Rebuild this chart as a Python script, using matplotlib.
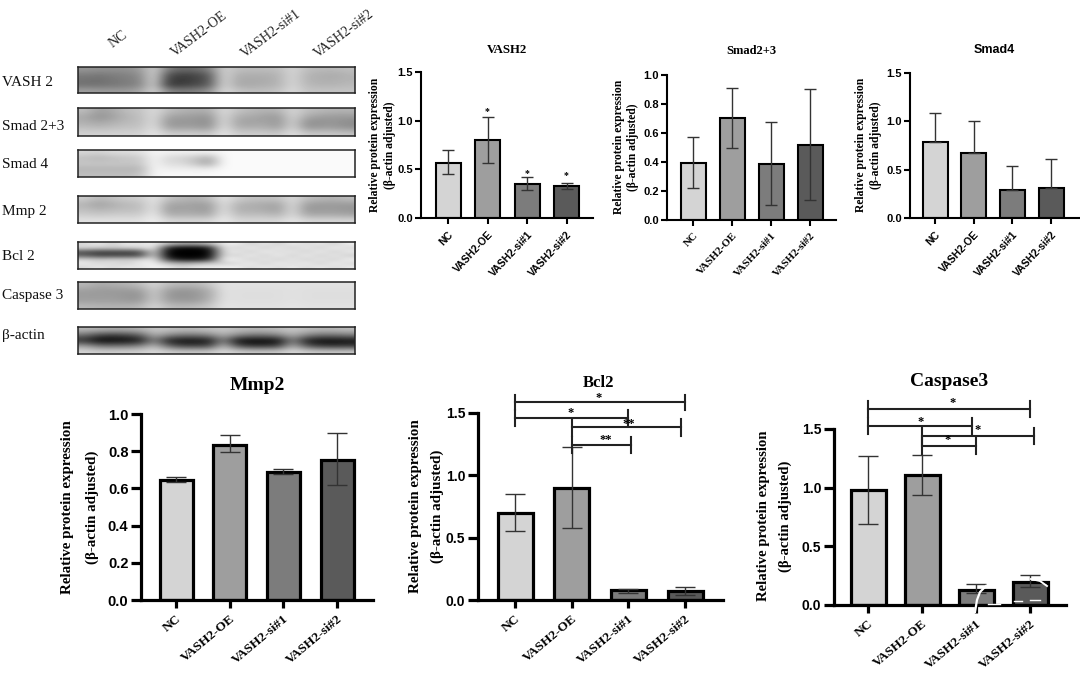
import numpy as np
import matplotlib
matplotlib.use('Agg')
import matplotlib.pyplot as plt
from matplotlib.lines import Line2D

SERIF = ['Liberation Serif', 'DejaVu Serif']
SANS = ['Liberation Sans', 'DejaVu Sans']

groups = ['NC', 'VASH2-OE', 'VASH2-si#1', 'VASH2-si#2']
bar_colors = ['#d4d4d4', '#9e9e9e', '#7c7c7c', '#5a5a5a']

vash2_mean = [0.57, 0.80, 0.35, 0.33]
vash2_low = [0.45, 0.56, 0.29, 0.30]
vash2_high = [0.70, 1.04, 0.42, 0.36]

smad23_mean = [0.39, 0.70, 0.385, 0.52]
smad23_low = [0.22, 0.495, 0.10, 0.14]
smad23_high = [0.575, 0.91, 0.675, 0.905]

smad4_mean = [0.785, 0.67, 0.285, 0.315]
smad4_low = [0.785, 0.67, 0.285, 0.315]
smad4_high = [1.09, 1.00, 0.535, 0.61]

mmp2_mean = [0.645, 0.835, 0.69, 0.755]
mmp2_low = [0.635, 0.795, 0.675, 0.62]
mmp2_high = [0.66, 0.885, 0.705, 0.90]

bcl2_mean = [0.70, 0.90, 0.08, 0.07]
bcl2_low = [0.555, 0.58, 0.06, 0.04]
bcl2_high = [0.85, 1.23, 0.09, 0.105]

casp3_mean = [0.98, 1.105, 0.13, 0.195]
casp3_low = [0.69, 0.94, 0.10, 0.15]
casp3_high = [1.27, 1.275, 0.175, 0.255]

# blot grey levels, one list per row of the membrane
blot_vash2 = [
    [150, 145, 145, 145, 155, 210, 125, 105, 110, 130, 210, 190, 188, 188, 190, 215, 190, 185, 185, 190],
    [125, 120, 125, 130, 140, 215, 80, 65, 70, 95, 215, 175, 175, 175, 180, 215, 180, 175, 170, 180],
    [115, 110, 120, 125, 135, 215, 65, 55, 65, 90, 215, 170, 170, 170, 180, 215, 180, 175, 175, 180],
    [115, 115, 120, 125, 135, 210, 60, 65, 75, 95, 215, 170, 170, 175, 180, 215, 185, 180, 180, 185],
    [160, 155, 155, 155, 165, 215, 135, 125, 130, 145, 220, 195, 190, 190, 195, 220, 195, 195, 195, 195],
]
blot_smad23 = [
    [190, 160, 170, 190, 195, 220, 190, 180, 175, 175, 220, 195, 185, 180, 180, 215, 190, 185, 180, 180],
    [170, 145, 160, 180, 190, 220, 165, 160, 155, 150, 220, 175, 170, 160, 155, 215, 170, 160, 155, 155],
    [175, 165, 175, 185, 190, 220, 150, 150, 150, 140, 220, 165, 160, 165, 150, 210, 145, 145, 150, 140],
    [190, 185, 190, 195, 195, 225, 160, 160, 160, 150, 225, 175, 175, 175, 160, 215, 150, 155, 155, 145],
    [210, 210, 210, 210, 210, 230, 205, 205, 205, 200, 230, 205, 205, 205, 200, 225, 200, 200, 200, 195],
]
blot_smad4 = [
    [215, 210, 220, 220, 225, 245, 240, 240, 240, 240, 248, 250, 250, 250, 250, 250, 250, 250, 250, 250],
    [190, 180, 190, 195, 200, 245, 215, 210, 195, 170, 248, 250, 250, 250, 250, 250, 250, 250, 250, 250],
    [200, 200, 200, 200, 200, 245, 220, 220, 195, 165, 248, 250, 250, 250, 250, 250, 250, 250, 250, 250],
    [180, 180, 180, 180, 180, 245, 238, 238, 238, 238, 248, 250, 250, 250, 250, 250, 250, 250, 250, 250],
    [190, 190, 190, 190, 195, 245, 248, 248, 248, 248, 250, 250, 250, 250, 250, 250, 250, 250, 250, 250],
]
blot_mmp2 = [
    [205, 185, 195, 205, 205, 230, 195, 185, 180, 190, 230, 205, 195, 195, 195, 220, 190, 185, 180, 190],
    [180, 160, 175, 185, 190, 230, 165, 165, 160, 160, 225, 180, 175, 170, 165, 220, 160, 155, 155, 155],
    [190, 180, 185, 190, 190, 230, 155, 165, 160, 155, 225, 175, 175, 170, 160, 220, 150, 155, 155, 150],
    [205, 200, 205, 205, 205, 235, 175, 175, 175, 170, 230, 190, 190, 190, 180, 220, 170, 170, 170, 165],
    [225, 225, 225, 225, 225, 240, 215, 215, 215, 215, 235, 215, 215, 215, 215, 230, 215, 215, 215, 215],
]
blot_bcl2 = [
    [215, 235, 205, 235, 225, 240, 190, 170, 170, 190, 235, 240, 205, 235, 205, 240, 215, 235, 205, 240],
    [215, 205, 205, 210, 215, 235, 40, 10, 10, 30, 235, 205, 240, 205, 235, 205, 235, 205, 240, 215],
    [85, 70, 70, 70, 80, 220, 5, 0, 0, 5, 220, 235, 205, 240, 215, 235, 205, 240, 205, 235],
    [95, 65, 70, 70, 75, 215, 5, 0, 0, 5, 225, 205, 240, 205, 240, 205, 240, 205, 235, 205],
    [210, 200, 205, 205, 210, 235, 60, 20, 20, 50, 240, 240, 205, 235, 205, 235, 205, 235, 205, 240],
    [235, 215, 225, 205, 235, 240, 190, 170, 180, 200, 205, 215, 240, 205, 240, 215, 240, 205, 240, 215],
    [215, 235, 215, 235, 225, 245, 235, 215, 235, 235, 240, 240, 215, 240, 215, 240, 215, 240, 215, 235],
]
blot_casp3 = [
    [185, 170, 175, 180, 190, 215, 190, 185, 185, 200, 225, 225, 225, 225, 225, 225, 225, 225, 225, 225],
    [160, 155, 155, 155, 160, 205, 160, 150, 155, 175, 225, 222, 222, 222, 222, 225, 222, 222, 222, 222],
    [155, 155, 155, 150, 145, 205, 150, 145, 150, 170, 225, 222, 222, 222, 222, 225, 222, 222, 222, 222],
    [160, 160, 160, 155, 155, 205, 160, 155, 155, 180, 225, 222, 222, 222, 222, 225, 222, 222, 222, 222],
    [185, 180, 180, 180, 185, 215, 190, 185, 190, 200, 228, 225, 225, 225, 225, 228, 225, 225, 225, 225],
]
blot_actin = [
    [185, 180, 175, 175, 180, 200, 195, 190, 190, 195, 200, 190, 185, 185, 190, 200, 190, 185, 185, 190],
    [110, 70, 60, 70, 95, 175, 140, 120, 120, 135, 175, 140, 120, 120, 135, 175, 135, 115, 115, 125],
    [45, 5, 5, 10, 25, 130, 30, 15, 15, 25, 130, 15, 5, 5, 15, 130, 30, 10, 10, 15],
    [160, 120, 115, 120, 135, 185, 105, 65, 65, 70, 185, 80, 50, 50, 65, 175, 85, 55, 50, 55],
    [215, 210, 210, 210, 210, 220, 210, 205, 205, 205, 220, 210, 205, 205, 205, 220, 210, 205, 205, 205],
]
blot_names = ['VASH 2', 'Smad 2+3', 'Smad 4', 'Mmp 2', 'Bcl 2', 'Caspase 3', 'β-actin']

W, H = 1080, 673
fig = plt.figure(figsize=(W / 100, H / 100), dpi=100)


def fx(x):
    return x / W


def fy(y):
    return 1 - y / H


def ftext(x, y, s, **kw):
    kw.setdefault('ha', 'center')
    kw.setdefault('va', 'center')
    fig.text(fx(x), fy(y), s, **kw)


# western blot strips
blots = [
    (blot_vash2, 67, 93, 82), (blot_smad23, 108, 136, 126), (blot_smad4, 150, 177, 165),
    (blot_mmp2, 196, 223, 211), (blot_bcl2, 242, 269, 256), (blot_casp3, 282, 309, 296),
    (blot_actin, 327, 354, 336),
]
for (grid, top, bottom, label_y), name in zip(blots, blot_names):
    ax = fig.add_axes([fx(78), fy(bottom), fx(355 - 78), (bottom - top) / H])
    ax.imshow(np.array(grid), cmap='gray', vmin=0, vmax=255, aspect='auto', interpolation='bicubic')
    ax.set_xticks([])
    ax.set_yticks([])
    for sp in ax.spines.values():
        sp.set_linewidth(1.1)
        sp.set_color('#222222')
    ftext(2, label_y, name, ha='left', family=SERIF, fontsize=11, color='#111111')

for x, y, s in [(118, 39, groups[0]), (199, 34, groups[1]), (271, 34, groups[2]), (344, 34, groups[3])]:
    ftext(x, y, s, rotation=37, family=SERIF, fontsize=10, color='#222222')


def bar_panel(mean, low, high, left, right, bottom, top, ymax, yticks, c0, step, width,
              big=False, tick_family=SANS, ytick_family=SANS, tick_size=7.5, ytick_size=8):
    ax = fig.add_axes([fx(left), fy(bottom), fx(right - left), (bottom - top) / H])
    xs = np.arange(4)
    lw = 2.3 if big else 1.5
    ax.bar(xs, mean, width=width / step, color=bar_colors, edgecolor='black', linewidth=lw, zorder=2)
    yerr = [np.array(mean) - np.array(low), np.array(high) - np.array(mean)]
    ax.errorbar(xs, mean, yerr=yerr, fmt='none', ecolor='#333333', elinewidth=1.0,
                capsize=7.5 if big else 4.2, capthick=1.0, zorder=3)
    ax.set_xlim((left - c0) / step, (right - c0) / step)
    ax.set_ylim(0, ymax)
    ax.set_xticks(xs)
    ax.set_yticks(yticks)
    ax.set_yticklabels(['%.1f' % t for t in yticks], family=ytick_family, fontsize=ytick_size, fontweight='bold')
    ax.set_xticklabels(groups, rotation=40 if big else 47, ha='right', rotation_mode='anchor',
                       family=tick_family, fontsize=tick_size, fontweight='bold')
    ax.spines['top'].set_visible(False)
    ax.spines['right'].set_visible(False)
    ax.spines['left'].set_linewidth(lw)
    ax.spines['bottom'].set_linewidth(lw)
    ax.tick_params(axis='y', width=lw, length=7 if big else 4, pad=2)
    ax.tick_params(axis='x', width=lw, length=6 if big else 4, pad=3 if big else 4)
    return ax


def ylabel2(x1, x2, y, size):
    ftext(x1, y, 'Relative protein expression', rotation=90, family=SERIF, fontsize=size, fontweight='bold')
    ftext(x2, y, '(β-actin adjusted)', rotation=90, family=SERIF, fontsize=size, fontweight='bold')


def bracket(ax, x0, x1, y, dy, lw=1.5):
    ax.plot([x0, x1], [y, y], color='#222222', lw=lw, clip_on=False, zorder=4)
    ax.plot([x0, x0], [y - dy, y + dy], color='#222222', lw=lw, clip_on=False, zorder=4)
    ax.plot([x1, x1], [y - dy, y + dy], color='#222222', lw=lw, clip_on=False, zorder=4)


def star(ax, x, y, s, size=9):
    ax.text(x, y, s, ha='center', va='center', family=SERIF, fontsize=size, fontweight='bold',
            clip_on=False, zorder=5)


# top row
ax = bar_panel(vash2_mean, vash2_low, vash2_high, 421, 593, 218, 72, 1.5, [0, 0.5, 1.0, 1.5], 448, 39.5, 25)
star(ax, 1, 1.09, '*', 7)
star(ax, 2, 0.46, '*', 7)
star(ax, 3, 0.44, '*', 7)
ftext(507, 50, 'VASH2', family=SERIF, fontsize=9.3, fontweight='bold')
ylabel2(375, 390, 145, 8.4)

bar_panel(smad23_mean, smad23_low, smad23_high, 667, 836, 220, 75, 1.0, [0, 0.2, 0.4, 0.6, 0.8, 1.0],
          693, 39, 25, tick_family=SERIF, tick_size=7.8)
ftext(751, 51, 'Smad2+3', family=SERIF, fontsize=9, fontweight='bold')
ylabel2(619, 633, 147, 8.4)

bar_panel(smad4_mean, smad4_low, smad4_high, 910, 1080, 218, 73, 1.5, [0, 0.5, 1.0, 1.5], 935, 38.7, 25)
ftext(994, 50, 'Smad4', family=SANS, fontsize=9, fontweight='bold')
ylabel2(861, 876, 145, 8.4)

# bottom row
bar_panel(mmp2_mean, mmp2_low, mmp2_high, 141, 373, 600, 414, 1.0, [0, 0.2, 0.4, 0.6, 0.8, 1.0],
          176, 53.7, 33, big=True, tick_family=SERIF, tick_size=9.6, ytick_size=10.5)
ftext(257, 385, 'Mmp2', family=SERIF, fontsize=14, fontweight='bold')
ylabel2(68, 92, 507, 10.8)

ax = bar_panel(bcl2_mean, bcl2_low, bcl2_high, 478, 723, 600, 413, 1.5, [0, 0.5, 1.0, 1.5],
               515, 56.7, 35, big=True, tick_family=SERIF, tick_size=9.6, ytick_size=10)
bracket(ax, 0, 3, 1.586, 0.062)
bracket(ax, 0, 2, 1.46, 0.062)
bracket(ax, 1, 2.92, 1.385, 0.07)
bracket(ax, 1, 2.04, 1.243, 0.062)
star(ax, 1.47, 1.62, '*')
star(ax, 0.98, 1.50, '*')
star(ax, 2.0, 1.41, '**')
star(ax, 1.6, 1.28, '**')
ftext(599, 383, 'Bcl2', family=SERIF, fontsize=12, fontweight='bold')
ylabel2(416, 437, 506, 10.8)

ax = bar_panel(casp3_mean, casp3_low, casp3_high, 834, 1066, 605, 429, 1.5, [0, 0.5, 1.0, 1.5],
               868, 54, 35, big=True, tick_family=SERIF, tick_size=9.6, ytick_size=10)
bracket(ax, 0, 3, 1.67, 0.067)
bracket(ax, 0, 1.92, 1.528, 0.067)
bracket(ax, 1, 3.07, 1.443, 0.067)
bracket(ax, 1, 2.0, 1.355, 0.067)
star(ax, 1.57, 1.72, '*')
star(ax, 0.97, 1.56, '*')
star(ax, 2.03, 1.49, '*')
star(ax, 1.47, 1.41, '*')
ftext(949, 382, 'Caspase3', family=SERIF, fontsize=14, fontweight='bold')
ylabel2(763, 785, 516, 10.6)

# white scratches left on the caspase bars in the source image
for xs, ys, w in [([975, 977, 980, 986], [612, 600, 592, 586], 1.6),
                  ([1031, 1040, 1047], [579, 581, 586], 1.4),
                  ([988, 1000], [603.5, 603.5], 1.0),
                  ([1014, 1022], [601, 601], 1.0),
                  ([1030, 1040], [600, 600], 1.0)]:
    fig.add_artist(Line2D([fx(v) for v in xs], [fy(v) for v in ys], color='white', lw=w, zorder=10))

fig.savefig('out.png', dpi=100, facecolor='white')
